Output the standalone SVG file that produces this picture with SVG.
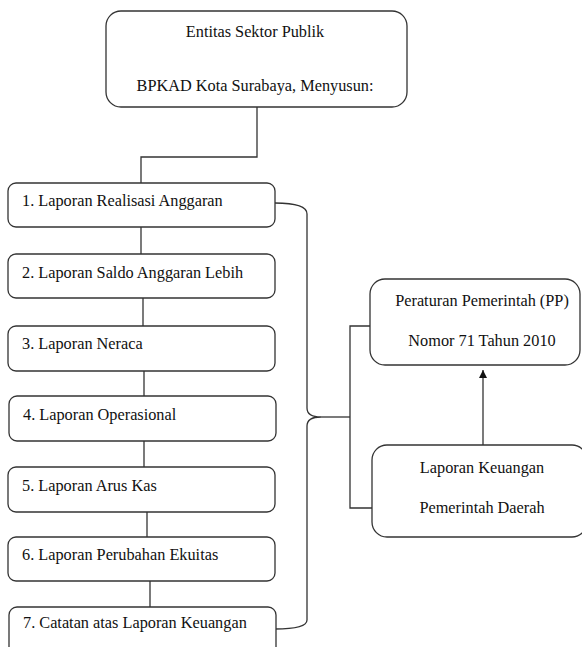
<svg xmlns="http://www.w3.org/2000/svg" width="582" height="647" viewBox="0 0 582 647">
<style>
.box{fill:#fff;stroke:#333;stroke-width:1.3}
.ln{fill:none;stroke:#333;stroke-width:1.3}
.t{font-family:'Liberation Serif','Times New Roman',Tinos,serif;font-size:16.3px;fill:#111}
.c{text-anchor:middle}
</style>
<defs>
<marker id="ah" markerWidth="8" markerHeight="8" refX="8" refY="4" orient="auto" markerUnits="userSpaceOnUse" viewBox="0 0 8 8">
<path d="M0,0 L8,4 L0,8 Z" fill="#111"/>
</marker>
</defs>
<rect width="582" height="647" fill="#fff"/>
<g id="connectors">
<path class="ln" d="M257,107 V157 H141 V183"/>
<path class="ln" d="M141,227 V254"/>
<path class="ln" d="M143,298 V326"/>
<path class="ln" d="M144,371 V396"/>
<path class="ln" d="M144,441 V467"/>
<path class="ln" d="M147,512 V537"/>
<path class="ln" d="M150,581 V607"/>
<path class="ln" d="M275,203 Q307,203 307,214 V408 Q307,417 321,417 Q307,417 307,426 V620 Q307,629 275,629"/>
<path class="ln" d="M321,417 H350"/>
<path class="ln" d="M370,326 H350 V508 H372"/>
<line class="ln" x1="483" y1="445" x2="483" y2="370" marker-end="url(#ah)"/>
</g>
<g id="top">
<rect class="box" x="106" y="11" width="301" height="96" rx="15"/>
<text class="t c" x="255" y="37">Entitas Sektor Publik</text>
<text class="t c" x="255" y="91">BPKAD Kota Surabaya, Menyusun:</text>
</g>
<g id="n1"><rect class="box" x="8" y="183" width="267" height="44" rx="8"/><text class="t" x="22" y="206">1. Laporan Realisasi Anggaran</text></g>
<g id="n2"><rect class="box" x="8" y="254" width="267" height="44" rx="8"/><text class="t" x="22" y="278">2. Laporan Saldo Anggaran Lebih</text></g>
<g id="n3"><rect class="box" x="8" y="326" width="267" height="45" rx="8"/><text class="t" x="22" y="349">3. Laporan Neraca</text></g>
<g id="n4"><rect class="box" x="9" y="396" width="267" height="45" rx="8"/><text class="t" x="23" y="420">4. Laporan Operasional</text></g>
<g id="n5"><rect class="box" x="8" y="467" width="267" height="45" rx="8"/><text class="t" x="22" y="491">5. Laporan Arus Kas</text></g>
<g id="n6"><rect class="box" x="8" y="537" width="267" height="44" rx="8"/><text class="t" x="22" y="560">6. Laporan Perubahan Ekuitas</text></g>
<g id="n7"><rect class="box" x="9" y="607" width="267" height="50" rx="8"/><text class="t" x="23" y="628">7. Catatan atas Laporan Keuangan</text></g>
<g id="pp">
<rect class="box" x="370" y="279" width="210" height="86" rx="15"/>
<text class="t c" x="482" y="306">Peraturan Pemerintah (PP)</text>
<text class="t c" x="482" y="346">Nomor 71 Tahun 2010</text>
</g>
<g id="lkpd">
<rect class="box" x="372" y="445" width="215" height="92" rx="15"/>
<text class="t c" x="482" y="473">Laporan Keuangan</text>
<text class="t c" x="482" y="513">Pemerintah Daerah</text>
</g>
</svg>
